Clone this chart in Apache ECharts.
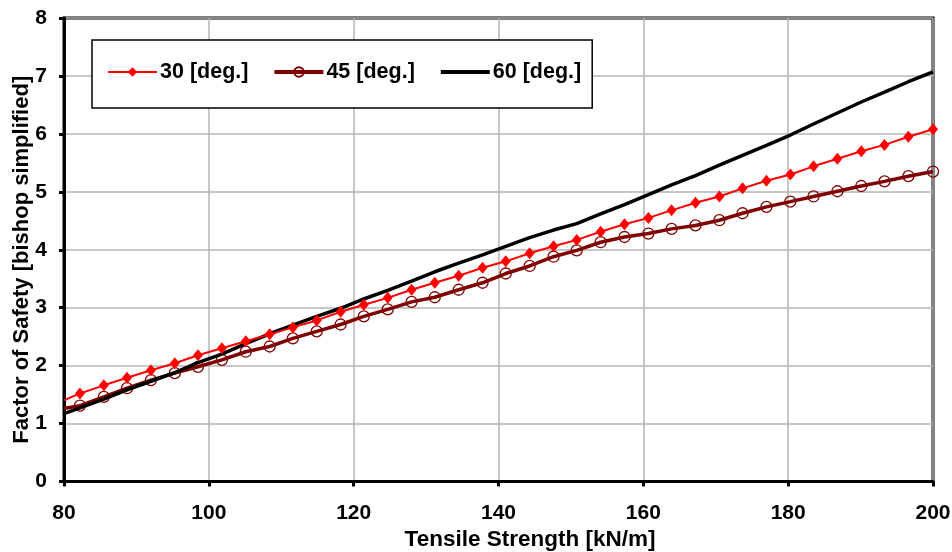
<!DOCTYPE html>
<html>
<head>
<meta charset="utf-8">
<script src="https://cdn.jsdelivr.net/npm/echarts@6/dist/echarts.min.js"></script>
<style>
  html, body { margin: 0; padding: 0; background: #fff; }
  #chart { width: 952px; height: 552px; }
</style>
</head>
<body>
<div id="chart"></div>
<script>
// Tensile strength [kN/m] at which the factor of safety was evaluated
const tensile = [80, 82.2, 85.5, 88.7, 92.0, 95.3, 98.5, 101.8, 105.1, 108.4, 111.6, 114.9,
  118.2, 121.4, 124.7, 128.0, 131.2, 134.5, 137.8, 141.0, 144.3, 147.6, 150.8, 154.1,
  157.4, 160.7, 163.9, 167.2, 170.5, 173.7, 177.0, 180.3, 183.5, 186.8, 190.1, 193.3,
  196.6, 200.0];

// Factor of safety (Bishop simplified) per slope angle
const fos30 = [1.40, 1.52, 1.66, 1.79, 1.92, 2.04, 2.18, 2.30, 2.42, 2.54, 2.66, 2.78,
  2.93, 3.05, 3.17, 3.31, 3.43, 3.55, 3.69, 3.80, 3.94, 4.06, 4.17, 4.31,
  4.44, 4.55, 4.68, 4.81, 4.92, 5.06, 5.19, 5.30, 5.44, 5.57, 5.70, 5.81,
  5.95, 6.08];
const fos45 = [1.26, 1.31, 1.46, 1.61, 1.75, 1.87, 1.98, 2.10, 2.24, 2.33, 2.47, 2.59,
  2.71, 2.85, 2.97, 3.10, 3.18, 3.31, 3.43, 3.59, 3.72, 3.88, 3.99, 4.13,
  4.22, 4.28, 4.36, 4.42, 4.51, 4.63, 4.74, 4.83, 4.92, 5.01, 5.10, 5.18,
  5.27, 5.35];
const fos60 = [1.17, 1.27, 1.42, 1.58, 1.73, 1.88, 2.05, 2.20, 2.38, 2.55, 2.70, 2.85,
  2.99, 3.15, 3.30, 3.46, 3.62, 3.77, 3.91, 4.06, 4.21, 4.34, 4.45, 4.62,
  4.78, 4.95, 5.12, 5.28, 5.46, 5.63, 5.80, 5.98, 6.17, 6.36, 6.55, 6.72,
  6.90, 7.07];

const seriesNames = ['30 [deg.]', '45 [deg.]', '60 [deg.]'];
const xTicks = [80, 100, 120, 140, 160, 180, 200];
const yTicks = [0, 1, 2, 3, 4, 5, 6, 7, 8];

const FONT = '"Liberation Sans", Arial, sans-serif';

// pair x with y; the point sitting on the left axis carries no marker
function pairs(ys) {
  return tensile.map((x, i) => i === 0 ? { value: [x, ys[i]], symbol: 'none' } : [x, ys[i]]);
}

const chart = echarts.init(document.getElementById('chart'), null, { renderer: 'canvas' });

chart.setOption({
  animation: false,
  backgroundColor: '#ffffff',
  textStyle: { fontFamily: FONT },
  grid: {
    left: 64, right: 19, top: 18, bottom: 70.5,
    containLabel: false,
    outerBoundsMode: 'none',
    show: true, borderColor: '#000', borderWidth: 3, backgroundColor: 'transparent'
  },
  legend: {
    left: 92, top: 40,
    orient: 'horizontal',
    backgroundColor: '#fff',
    borderColor: '#000', borderWidth: 1.5,
    padding: [21, 11, 25, 15],
    itemWidth: 49, itemHeight: 12, itemGap: 24,
    textStyle: { fontFamily: FONT, fontWeight: 'bold', fontSize: 21.5, color: '#000', padding: [0, 0, 0, -2] },
    data: [
      { name: seriesNames[0], lineStyle: { width: 2 } },
      { name: seriesNames[1], lineStyle: { width: 4 } },
      { name: seriesNames[2], lineStyle: { width: 4 }, itemStyle: { opacity: 0 } }
    ]
  },
  xAxis: {
    type: 'value',
    min: xTicks[0], max: xTicks[xTicks.length - 1], interval: 20,
    name: 'Tensile Strength [kN/m]',
    nameLocation: 'middle', nameGap: 44,
    nameTextStyle: { fontFamily: FONT, fontWeight: 'bold', fontSize: 22.5, color: '#000', padding: [0, 0, 0, 63] },
    axisLine: { onZero: false, lineStyle: { color: '#000', width: 3 } },
    axisTick: { show: true, inside: false, length: 5, lineStyle: { color: '#000', width: 3 } },
    axisLabel: { margin: 21, fontFamily: FONT, fontWeight: 'bold', fontSize: 21, color: '#000' },
    splitLine: { show: true, lineStyle: { color: '#b4b4b4', width: 1.5 } }
  },
  yAxis: {
    type: 'value',
    min: yTicks[0], max: yTicks[yTicks.length - 1], interval: 1,
    name: 'Factor of Safety [bishop simplified]',
    nameLocation: 'middle', nameGap: 31, nameMoveOverlap: false,
    nameTextStyle: { fontFamily: FONT, fontWeight: 'bold', fontSize: 22, color: '#000', padding: [0, 20, 0, 0] },
    axisLine: { onZero: false, lineStyle: { color: '#000', width: 3 } },
    axisTick: { show: true, inside: false, length: 5, lineStyle: { color: '#000', width: 3 } },
    axisLabel: { margin: 17, fontFamily: FONT, fontWeight: 'bold', fontSize: 21, color: '#000' },
    splitLine: { show: true, lineStyle: { color: '#b4b4b4', width: 1.5 } }
  },
  series: [
    {
      name: seriesNames[0],
      type: 'line',
      data: pairs(fos30),
      symbol: 'diamond', symbolSize: [10, 12], showSymbol: true,
      lineStyle: { color: '#ff0000', width: 2 },
      itemStyle: { color: '#ff0000' },
      z: 4
    },
    {
      name: seriesNames[1],
      type: 'line',
      data: pairs(fos45),
      symbol: 'circle', symbolSize: 11, showSymbol: true,
      lineStyle: { color: '#800000', width: 3.5 },
      itemStyle: { color: 'rgba(255,255,255,0)', borderColor: '#800000', borderWidth: 1.3 },
      z: 2
    },
    {
      name: seriesNames[2],
      type: 'line',
      data: pairs(fos60),
      symbol: 'none',
      lineStyle: { color: '#000000', width: 3.5 },
      itemStyle: { color: '#000000' },
      z: 3
    }
  ]
});
</script>
</body>
</html>
